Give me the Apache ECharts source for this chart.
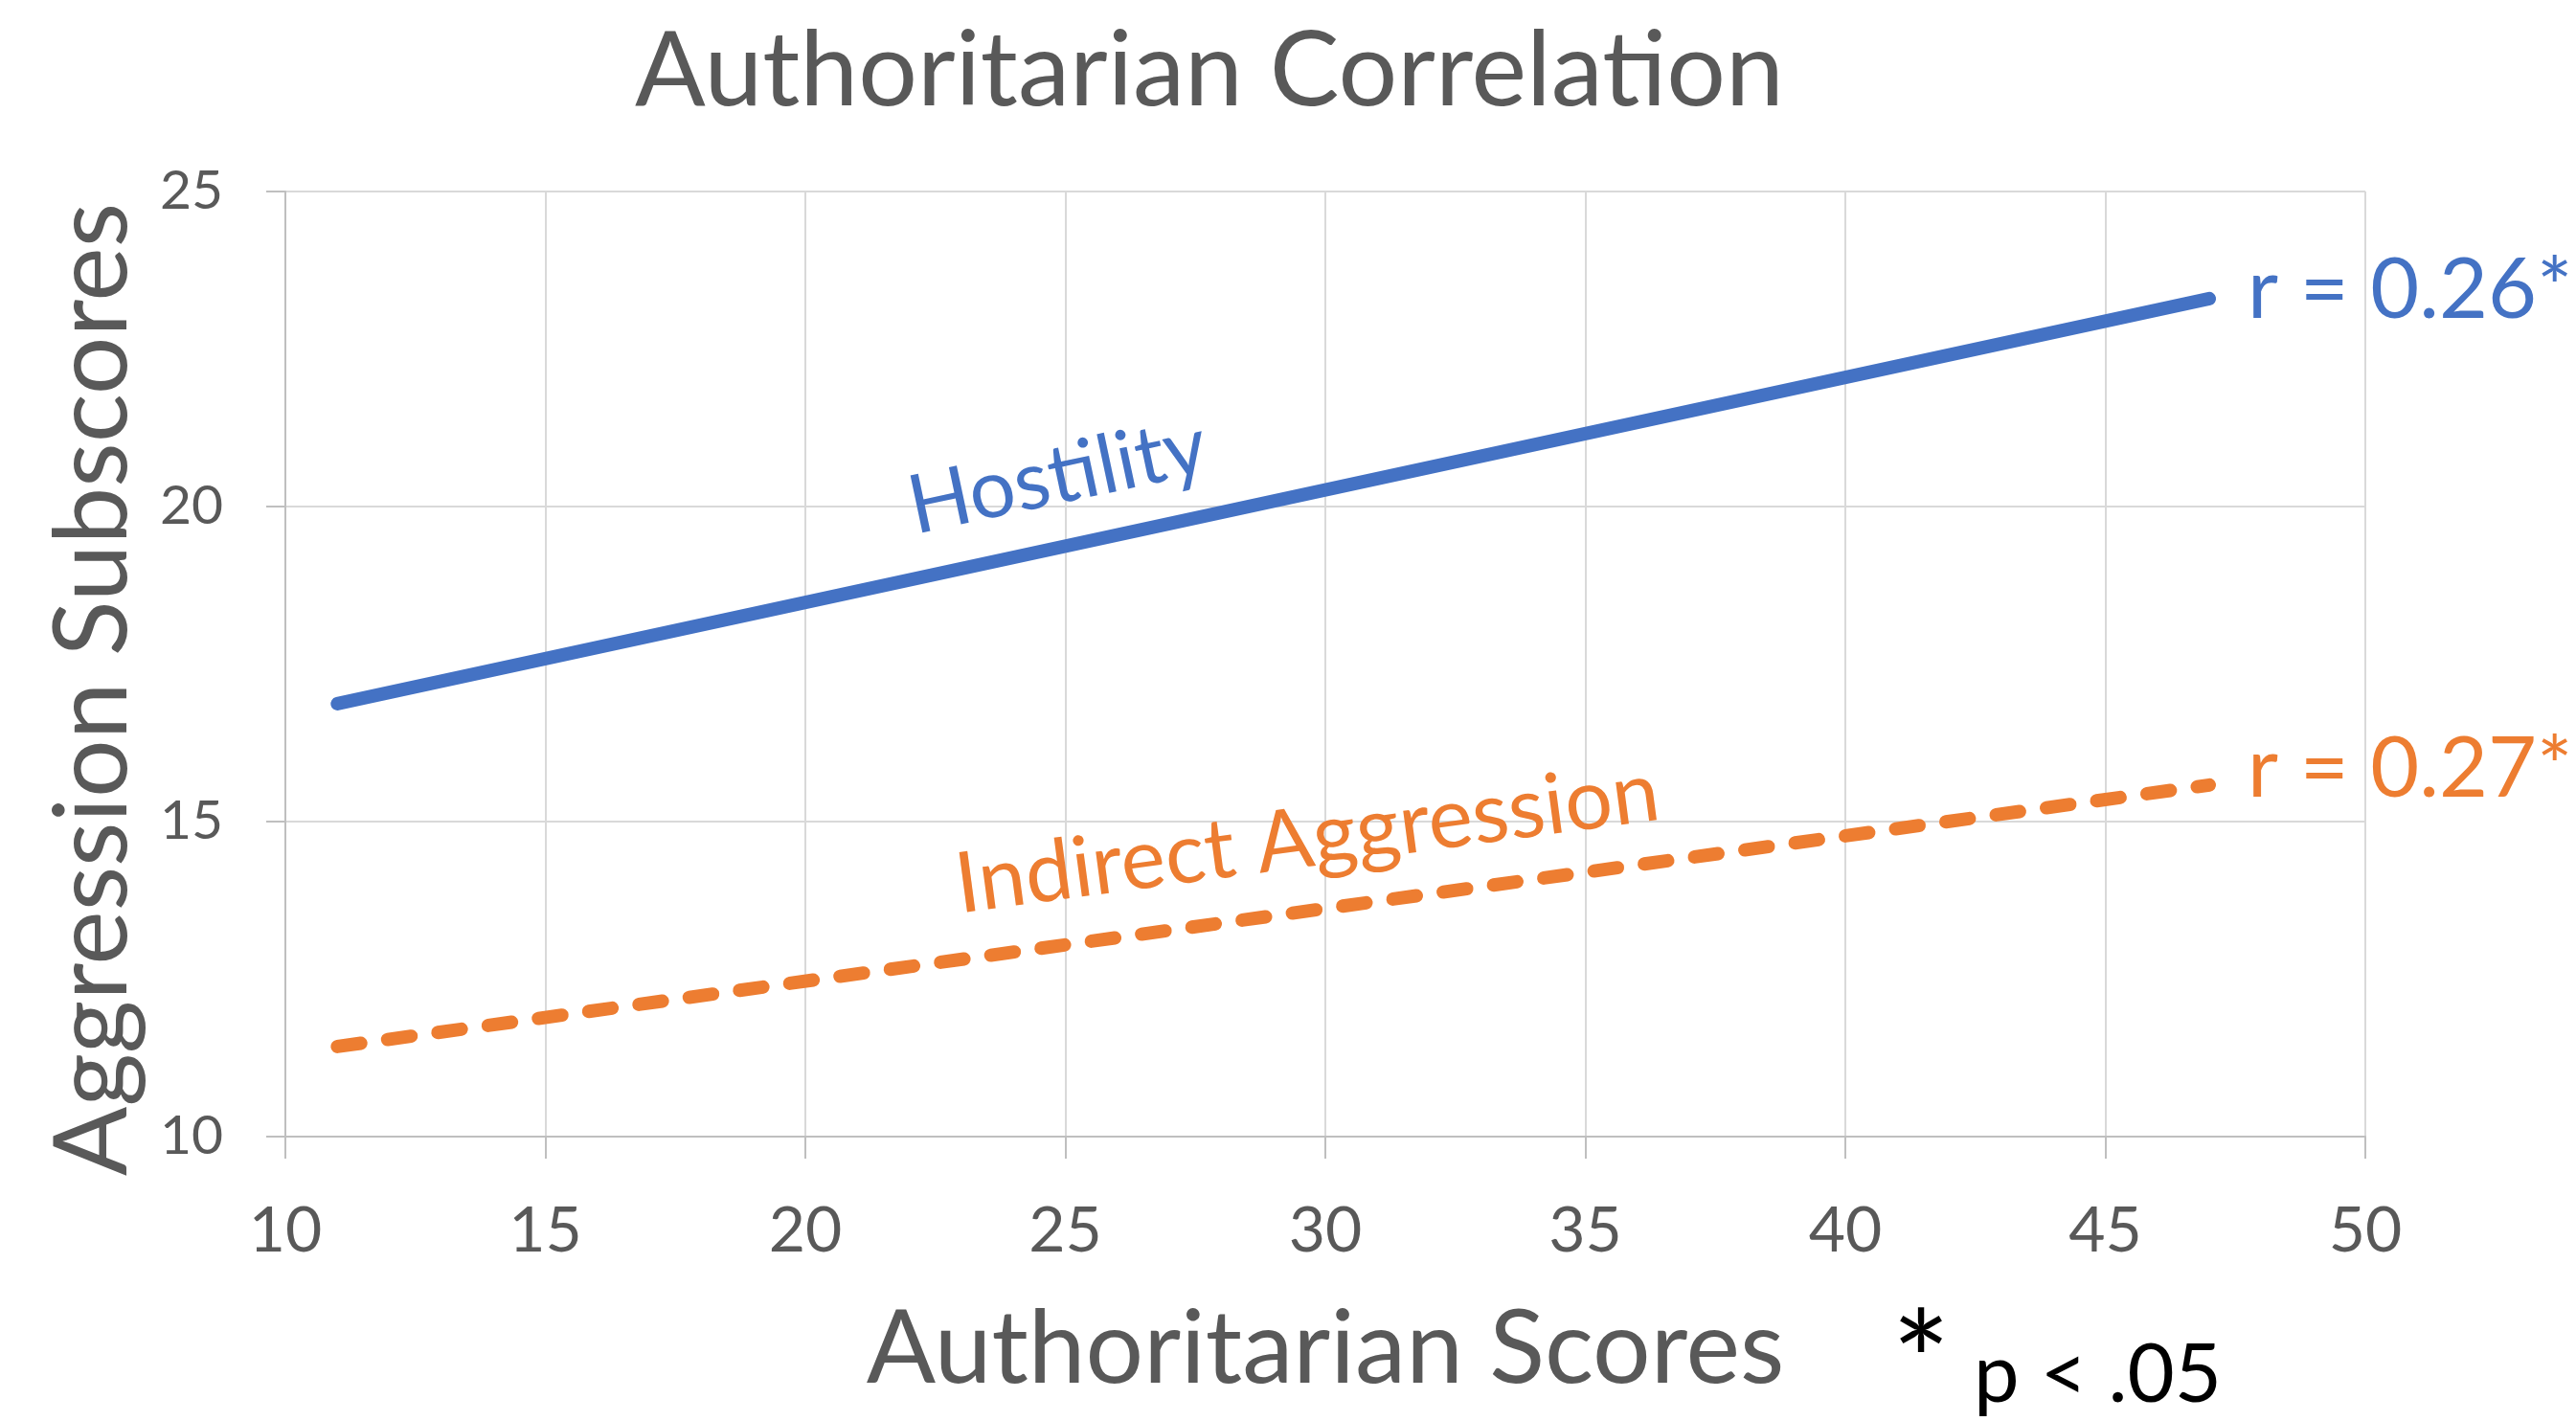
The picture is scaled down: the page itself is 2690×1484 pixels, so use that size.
<!DOCTYPE html>
<html>
<head>
<meta charset="utf-8">
<script src="https://cdn.jsdelivr.net/npm/echarts@6/dist/echarts.min.js"></script>
<style>
html,body{margin:0;padding:0;background:#fff;}
#c{width:2690px;height:1484px;}
</style>
</head>
<body>
<div id="c"></div>
<script>
// ---- data ----
const xEnds = [11, 47];                 // Authoritarian Scores range of trendlines
const hostility = [16.87, 23.30];       // Hostility trend values
const indirect = [11.43, 15.58];        // Indirect Aggression trend values
const xTicks = [10, 15, 20, 25, 30, 35, 40, 45, 50];
const yTicks = [10, 15, 20, 25];
const rLabels = ['r = 0.26*', 'r = 0.27*'];
const seriesNames = ['Hostility', 'Indirect Aggression'];
const nameLabelPos = [[24.85, 20.47], [29.65, 14.72]];

const FONT = 'Lato';
const GREY = '#595959';
const BLUE = '#4472C4';
const ORANGE = '#ED7D31';

const chart = echarts.init(document.getElementById('c'), null, {renderer: 'canvas'});

function pts(vals) { return xEnds.map((x, i) => [x, vals[i]]); }

const option = {
  animation: false,
  backgroundColor: '#fff',
  grid: {left: 298, right: 220, top: 200, bottom: 297, containLabel: false},
  xAxis: {
    type: 'value', min: xTicks[0], max: xTicks[xTicks.length - 1], interval: 5,
    name: 'Authoritarian Scores', nameLocation: 'middle', nameGap: 222,
    nameTextStyle: {fontFamily: FONT, fontSize: 107, color: GREY, verticalAlign: 'middle'},
    axisLine: {show: true, lineStyle: {color: '#bfbfbf', width: 2}},
    axisTick: {show: true, length: 23, lineStyle: {color: '#bfbfbf', width: 2}},
    splitLine: {show: true, lineStyle: {color: '#d9d9d9', width: 2}},
    axisLabel: {fontFamily: FONT, fontSize: 66, color: GREY, margin: 99, verticalAlign: 'middle'}
  },
  yAxis: {
    type: 'value', min: yTicks[0], max: yTicks[yTicks.length - 1], interval: 5,
    axisLine: {show: true, lineStyle: {color: '#bfbfbf', width: 2}},
    axisTick: {show: true, length: 20, lineStyle: {color: '#bfbfbf', width: 2}},
    splitLine: {show: true, lineStyle: {color: '#d9d9d9', width: 2}},
    axisLabel: {fontFamily: FONT, fontSize: 57, color: GREY, margin: 65, verticalAlign: 'middle'}
  },
  graphic: [
    {type: 'text', x: 1263, y: 75, style: {text: 'Authoritarian Correlation', fontFamily: FONT, fontSize: 109, fill: GREY, textAlign: 'center', textVerticalAlign: 'middle'}},
    {type: 'text', x: 97, y: 720, rotation: Math.PI / 2, style: {text: 'Aggression Subscores', fontFamily: FONT, fontSize: 107, fill: GREY, textAlign: 'center', textVerticalAlign: 'middle'}},
    {type: 'text', x: 2006, y: 1428, style: {text: '*', fontFamily: FONT, fontSize: 145, fill: '#000', textAlign: 'center', textVerticalAlign: 'middle'}},
    {type: 'text', x: 2061, y: 1437, style: {text: 'p < .05', fontFamily: FONT, fontSize: 85, fill: '#000', textAlign: 'left', textVerticalAlign: 'middle'}}
  ],
  series: [
    {
      name: seriesNames[0], type: 'line', data: pts(hostility),
      showSymbol: false, symbol: 'none',
      lineStyle: {color: BLUE, width: 14, cap: 'round'},
      itemStyle: {color: BLUE},
      endLabel: {show: true, formatter: rLabels[0], distance: 40, offset: [0, -8], color: BLUE, fontFamily: FONT, fontSize: 88},
      markPoint: {
        symbol: 'circle', symbolSize: 1, itemStyle: {color: 'rgba(0,0,0,0)'},
        data: [{coord: nameLabelPos[0], value: seriesNames[0]}],
        label: {show: true, position: 'inside', formatter: seriesNames[0], rotate: 12, color: BLUE, fontFamily: FONT, fontSize: 85}
      }
    },
    {
      name: seriesNames[1], type: 'line', data: pts(indirect),
      showSymbol: false, symbol: 'none',
      lineStyle: {color: ORANGE, width: 14, cap: 'round', type: [24.7, 28.3]},
      itemStyle: {color: ORANGE},
      endLabel: {show: true, formatter: rLabels[1], distance: 40, offset: [0, -16], color: ORANGE, fontFamily: FONT, fontSize: 88},
      markPoint: {
        symbol: 'circle', symbolSize: 1, itemStyle: {color: 'rgba(0,0,0,0)'},
        data: [{coord: nameLabelPos[1], value: seriesNames[1]}],
        label: {show: true, position: 'inside', formatter: seriesNames[1], rotate: 7.6, color: ORANGE, fontFamily: FONT, fontSize: 88}
      }
    }
  ]
};
chart.setOption(option);
</script>
</body>
</html>
